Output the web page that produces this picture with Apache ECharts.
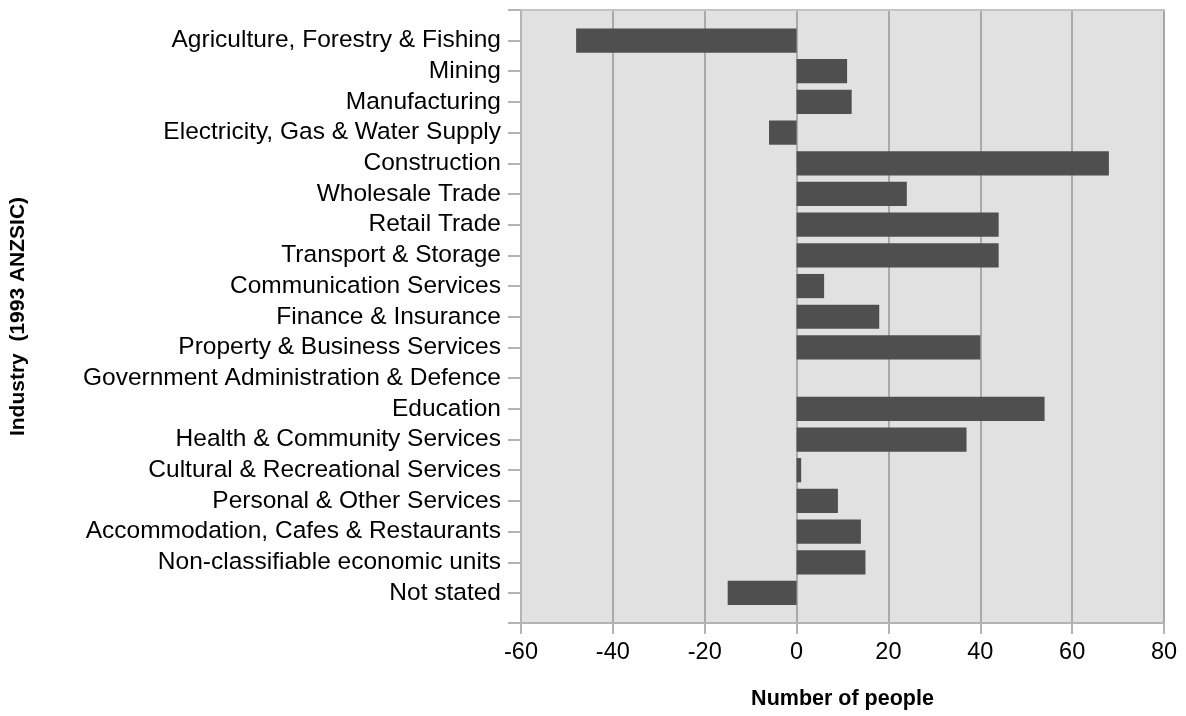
<!DOCTYPE html>
<html lang="en">
<head>
    <meta charset="UTF-8">
    <title>Industry change</title>
    <script src="https://cdn.jsdelivr.net/npm/echarts@6.0.0/dist/echarts.min.js"></script>
    <style>
        html, body { margin: 0; padding: 0; background: #fff; }
        #chart { width: 1186px; height: 716px; }
    </style>
</head>
<body>
    <div id="chart"></div>
    <script>
        // industries, top to bottom
        var industries = [
            'Agriculture, Forestry & Fishing',
            'Mining',
            'Manufacturing',
            'Electricity, Gas & Water Supply',
            'Construction',
            'Wholesale Trade',
            'Retail Trade',
            'Transport & Storage',
            'Communication Services',
            'Finance & Insurance',
            'Property & Business Services',
            'Government Administration & Defence',
            'Education',
            'Health & Community Services',
            'Cultural & Recreational Services',
            'Personal & Other Services',
            'Accommodation, Cafes & Restaurants',
            'Non-classifiable economic units',
            'Not stated'
        ];
        var people = [-48, 11, 12, -6, 68, 24, 44, 44, 6, 18, 40, 0, 54, 37, 1, 9, 14, 15, -15];
        var xMin = -60, xMax = 80, xStep = 20;

        var font = 'Liberation Sans, Arial, sans-serif';
        var chart = echarts.init(document.getElementById('chart'));

        var option = {
            animation: false,
            grid: [
                // outer plot frame (background, gridlines, x labels)
                { left: 521, right: 22, top: 10, bottom: 93, show: true,
                  backgroundColor: '#e1e1e1', borderWidth: 0 },
                // inner band holding the bars
                { left: 521, right: 22, top: 25.2, bottom: 107.7 }
            ],
            xAxis: [
                {
                    gridIndex: 0, type: 'value', min: xMin, max: xMax, interval: xStep,
                    name: 'Number of people', nameLocation: 'middle', nameGap: 65,
                    nameTextStyle: { fontFamily: font, fontSize: 21.5, fontWeight: 'bold', color: '#000' },
                    axisLine: { show: true, onZero: false, lineStyle: { color: '#b4b4b4', width: 2 } },
                    axisTick: { show: true, length: 11, lineStyle: { color: '#b4b4b4', width: 2 } },
                    axisLabel: { fontFamily: font, fontSize: 23.5, color: '#000', margin: 18 },
                    splitLine: { show: true, lineStyle: { color: '#a9a9a9', width: 2 } }
                },
                {
                    gridIndex: 0, type: 'value', min: xMin, max: xMax, position: 'top',
                    axisLine: { show: true, onZero: false, lineStyle: { color: '#c4c4c4', width: 2 } },
                    axisTick: { show: false }, axisLabel: { show: false }, splitLine: { show: false }
                },
                {
                    gridIndex: 1, type: 'value', min: xMin, max: xMax, show: false
                }
            ],
            yAxis: [
                {
                    gridIndex: 0, type: 'value', min: 0, max: 1, interval: 1,
                    name: 'Industry  (1993 ANZSIC)', nameLocation: 'middle', nameGap: 492, nameRotate: 90,
                    nameTextStyle: { fontFamily: font, fontSize: 21, fontWeight: 'bold', color: '#000' },
                    axisLine: { show: true, onZero: false, lineStyle: { color: '#b4b4b4', width: 2 } },
                    axisTick: { show: true, length: 13, lineStyle: { color: '#b4b4b4', width: 2 } },
                    axisLabel: { show: false }, splitLine: { show: false }
                },
                {
                    gridIndex: 0, type: 'value', min: 0, max: 1, position: 'right',
                    axisLine: { show: true, onZero: false, lineStyle: { color: '#a8a8a8', width: 2 } },
                    axisTick: { show: false }, axisLabel: { show: false }, splitLine: { show: false }
                },
                {
                    gridIndex: 1, type: 'category', data: industries, inverse: true,
                    axisLine: { show: false, onZero: false },
                    axisTick: { show: true, interval: 0, alignWithLabel: true, length: 13,
                                lineStyle: { color: '#b4b4b4', width: 2 } },
                    axisLabel: { interval: 0, fontFamily: font, fontSize: 24.5, color: '#000', margin: 20,
                                 padding: [7, 0, 0, 0] }
                }
            ],
            series: [
                {
                    type: 'bar', xAxisIndex: 2, yAxisIndex: 2, data: people,
                    barCategoryGap: '21%',
                    itemStyle: { color: '#4f4f4f' }
                }
            ]
        };
        chart.setOption(option);
    </script>
</body>
</html>
